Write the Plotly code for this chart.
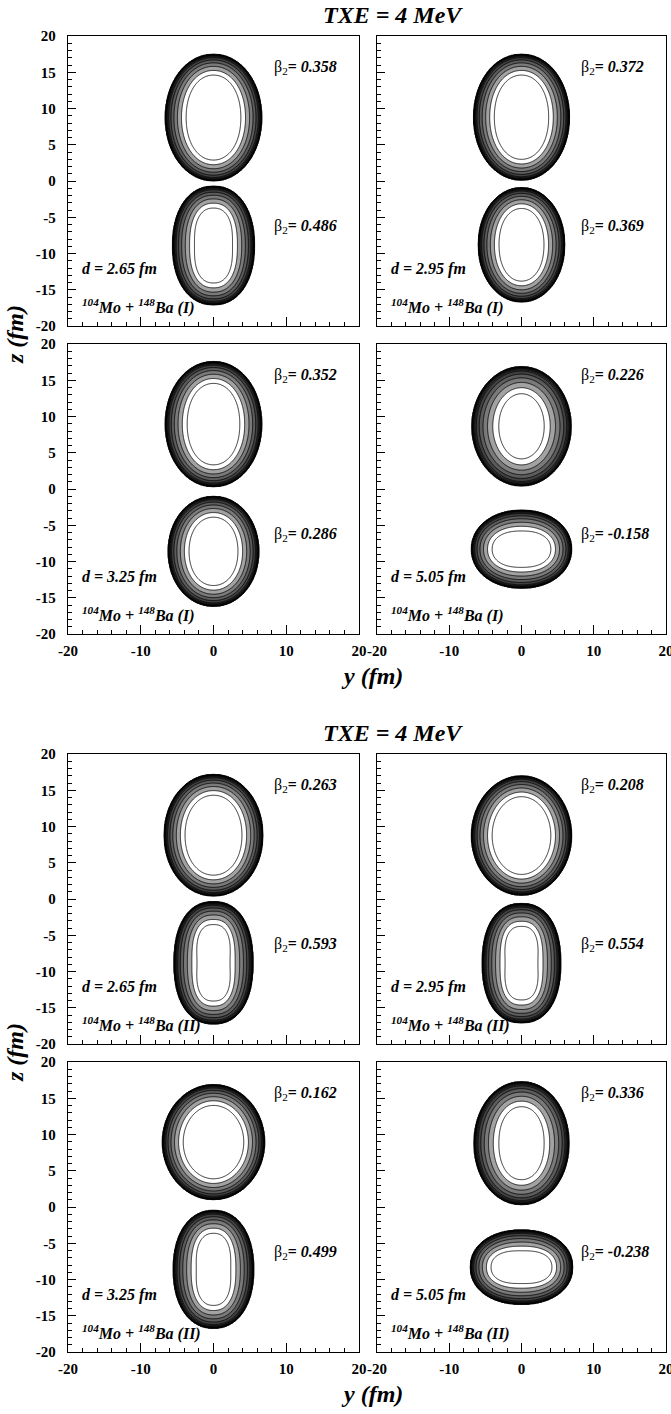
import numpy as np
import plotly.graph_objects as go

W, H = 671, 1414

# ---------------- data ----------------
block_titles = ["TXE = 4 MeV", "TXE = 4 MeV"]
system_tags = ["I", "II"]
d_labels = ["2.65", "2.95", "3.25", "5.05"]          # panel order: TL, TR, BL, BR

beta_upper = [["0.358", "0.372", "0.352", "0.226"], ["0.263", "0.208", "0.162", "0.336"]]
beta_lower = [["0.486", "0.369", "0.286", "-0.158"], ["0.593", "0.554", "0.499", "-0.238"]]

# outer density-contour geometry of each fragment (fm)
upper_zc = [[8.75, 8.8, 8.95, 8.65], [8.8, 8.75, 8.95, 8.8]]
upper_ay = [[6.65, 6.65, 6.65, 6.9], [6.8, 6.95, 7.05, 6.6]]
upper_az = [[8.75, 8.7, 8.65, 8.25], [8.4, 8.25, 7.95, 8.5]]
upper_p = [[2.05, 2.05, 2.05, 2.0], [2.05, 2.0, 2.0, 2.05]]
upper_w = [[1.0, 1.0, 1.05, 1.3], [1.0, 1.0, 1.0, 1.2]]        # surface-band width factor
lower_zc = [[-8.9, -8.8, -8.6, -8.3], [-8.8, -8.85, -8.6, -8.3]]
lower_ay = [[5.65, 6.0, 6.25, 6.95], [5.45, 5.45, 5.55, 7.1]]
lower_az = [[8.2, 7.9, 7.6, 5.4], [8.45, 8.25, 8.15, 5.15]]
lower_p = [[2.2, 2.05, 2.05, 2.1], [2.3, 2.3, 2.2, 2.15]]
lower_w = [[1.05, 1.0, 1.0, 1.0], [1.1, 1.1, 1.1, 1.0]]

x_tick_vals = [-20, -10, 0, 10, 20]
x_tick_text = ["-20", "-10", "0", "10", "20"]
x_minor_vals = [-18, -16, -14, -12, -8, -6, -4, -2, 2, 4, 6, 8, 12, 14, 16, 18]
y_tick_vals = [-20, -15, -10, -5, 0, 5, 10, 15, 20]
y_tick_text = ["-20", "-15", "-10", "-5", "0", "5", "10", "15", "20"]
y_minor_vals = [v for v in range(-19, 20) if v % 5 != 0]

# ---------------- layout geometry (pixels) ----------------
col_px = [(68, 359), (377, 666)]
row_px = [(36, 326), (344, 634)]
block_off = [0, 718]

FONT = "Liberation Serif"

# ---------------- density-like field ----------------
yg = np.round(np.arange(-9.5, 9.5001, 0.1), 2)
zg = np.round(np.arange(-19.5, 19.5001, 0.1), 2)
Y, Z = np.meshgrid(yg, zg)


def fragment_field(zc, ay, az, p, w):
    A = np.abs(Y) / ay + 1e-9
    B = np.abs(Z - zc) / az + 1e-9
    s = (A ** p + B ** p) ** (1.0 / p)
    grad = s ** (1 - p) * np.sqrt((A ** (p - 1) / ay) ** 2 + (B ** (p - 1) / az) ** 2)
    depth = (1 - s) / grad / w
    g = np.sign(depth) * np.sqrt(np.abs(depth))
    return np.clip(g, -0.6, 2.0)


shades = ["#ffffff", "#0c0c0c", "#262626", "#414141", "#5c5c5c",
          "#7a7a7a", "#a2a2a2", "#ffffff", "#ffffff"]
nseg = len(shades)
colorscale = []
for j, c in enumerate(shades):
    colorscale.append([j / nseg, c])
    colorscale.append([(j + 1) / nseg, c])

fig = go.Figure()
annotations = []
layout_axes = {}

for b in range(2):
    for pos in range(4):
        row, col = pos // 2, pos % 2
        k = b * 4 + pos + 1
        xn = "x" if k == 1 else f"x{k}"
        yn = "y" if k == 1 else f"y{k}"
        F = np.maximum(
            fragment_field(upper_zc[b][pos], upper_ay[b][pos], upper_az[b][pos],
                           upper_p[b][pos], upper_w[b][pos]),
            fragment_field(lower_zc[b][pos], lower_ay[b][pos], lower_az[b][pos],
                           lower_p[b][pos], lower_w[b][pos]),
        ).astype(np.float32)
        fig.add_trace(go.Contour(
            x=yg, y=zg, z=F, xaxis=xn, yaxis=yn,
            autocontour=False,
            contours=dict(start=0.1, end=1.7, size=0.2, coloring="fill"),
            colorscale=colorscale, showscale=False,
            line=dict(color="black", width=0.8, smoothing=0.7),
            hoverinfo="skip",
        ))
        # extra dense lines of the dark outer rim
        fig.add_trace(go.Contour(
            x=yg, y=zg, z=F, xaxis=xn, yaxis=yn,
            autocontour=False,
            contours=dict(start=0.0, end=0.6, size=0.2, coloring="none"),
            showscale=False,
            line=dict(color="black", width=0.8, smoothing=0.7),
            hoverinfo="skip",
        ))
        x0, x1 = col_px[col]
        yt, yb = row_px[row]
        yt += block_off[b]
        yb += block_off[b]
        axis_common = dict(
            range=[-20, 20], showline=True, linecolor="black", linewidth=1.3, mirror=True,
            showgrid=False, zeroline=False, ticks="inside", tickcolor="black",
            tickwidth=1, tickmode="array", automargin=False, ticklabeloverflow="allow",
            tickfont=dict(family=FONT, size=15, color="black", weight="bold"),
        )
        layout_axes["xaxis" if k == 1 else f"xaxis{k}"] = dict(
            axis_common, domain=[x0 / W, x1 / W], anchor=yn,
            tickvals=x_tick_vals, ticktext=x_tick_text, ticklen=9,
            showticklabels=(row == 1), ticklabelstandoff=3,
            minor=dict(tickmode="array", tickvals=x_minor_vals, ticks="inside",
                       ticklen=4, tickcolor="black", tickwidth=1),
        )
        layout_axes["yaxis" if k == 1 else f"yaxis{k}"] = dict(
            axis_common, domain=[1 - yb / H, 1 - yt / H], anchor=xn,
            tickvals=y_tick_vals, ticktext=y_tick_text, ticklen=8,
            showticklabels=(col == 0), ticklabelstandoff=8,
            minor=dict(tickmode="array", tickvals=y_minor_vals, ticks="inside",
                       ticklen=4, tickcolor="black", tickwidth=1),
        )
        tf = dict(family=FONT, size=16, color="black")
        annotations += [
            dict(xref=xn, yref=yn, x=8.0, y=15.6, xanchor="left", yanchor="middle",
                 showarrow=False, font=tf,
                 text=f"β<sub>2</sub><b>=</b> <b><i>{beta_upper[b][pos]}</i></b>"),
            dict(xref=xn, yref=yn, x=8.0, y=-6.3, xanchor="left", yanchor="middle",
                 showarrow=False, font=tf,
                 text=f"β<sub>2</sub><b>=</b> <b><i>{beta_lower[b][pos]}</i></b>"),
            dict(xref=xn, yref=yn, x=-18.4, y=-12.2, xanchor="left", yanchor="middle",
                 showarrow=False, font=tf,
                 text=f"<b><i>d = {d_labels[pos]} fm</i></b>"),
            dict(xref=xn, yref=yn, x=-18.4, y=-17.3, xanchor="left", yanchor="middle",
                 showarrow=False, font=tf,
                 text=f"<b><i><sup>104</sup>Mo + <sup>148</sup>Ba ({system_tags[b]})</i></b>"),
        ]

    off = block_off[b]
    annotations += [
        dict(xref="paper", yref="paper", x=393 / W, y=1 - (15 + off) / H,
             xanchor="center", yanchor="middle", showarrow=False,
             font=dict(family=FONT, size=24, color="black"),
             text=f"<b><i>{block_titles[b]}</i></b>"),
        dict(xref="paper", yref="paper", x=372 / W, y=1 - (676 + off) / H,
             xanchor="center", yanchor="middle", showarrow=False,
             font=dict(family=FONT, size=24, color="black"),
             text="<b><i>y (fm)</i></b>"),
        dict(xref="paper", yref="paper", x=15 / W, y=1 - (335 + off) / H,
             xanchor="center", yanchor="middle", showarrow=False, textangle=-90,
             font=dict(family=FONT, size=24, color="black"),
             text="<b><i>z (fm)</i></b>"),
    ]

fig.update_layout(
    width=W, height=H, autosize=False,
    margin=dict(l=0, r=0, t=0, b=0, autoexpand=False),
    paper_bgcolor="white", plot_bgcolor="white",
    showlegend=False, annotations=annotations,
    **layout_axes,
)

fig.write_html("out.html",
               config={"displayModeBar": False},
               post_script="document.body.style.margin='0';document.body.style.padding='0';")
